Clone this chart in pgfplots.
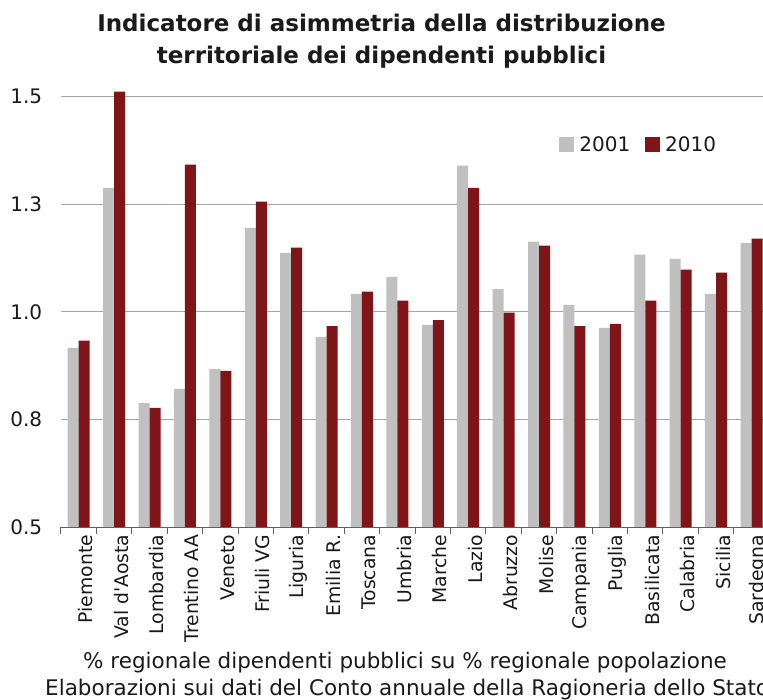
\documentclass[border=0pt]{standalone}
\usepackage{pgfplots}
\pgfplotsset{compat=1.18}
\usepackage{fontspec}
\setmainfont{DejaVu Sans}[Ligatures=TeXOff]
\definecolor{bargray}{HTML}{C0C0C0}
\definecolor{barred}{HTML}{7F1519}
\definecolor{gridc}{HTML}{A6A6A6}
\definecolor{axisc}{HTML}{606060}
\definecolor{txt}{HTML}{1A1A1A}
\begin{document}
\begin{tikzpicture}[x=1pt,y=1pt]
\clip (0,0) rectangle (763,699);
\fill[white] (0,0) rectangle (763,699);
\begin{axis}[
  at={(61pt,172pt)}, anchor=south west,
  scale only axis, width=702.2pt, height=438.9pt,
  xmin=-0.5, xmax=19.33, ymin=0.5, ymax=1.52,
  ybar, bar width=11pt,
  axis line style={draw=none},
  xtick={0,...,19},
  xticklabels={Piemonte,Val d'Aosta,Lombardia,Trentino AA,Veneto,Friuli VG,Liguria,Emilia R.,Toscana,Umbria,Marche,Lazio,Abruzzo,Molise,Campania,Puglia,Basilicata,Calabria,Sicilia,Sardegna},
  major x tick style={draw=none},
  minor xtick={-0.5,0.5,...,19.5},
  minor x tick style={axisc, line width=1pt},
  minor tick length=7pt,
  tick align=outside, xtick pos=bottom,
  ytick={0.5,0.75,1,1.25,1.5},
  yticklabels={0.5,0.8,1.0,1.3,1.5},
  ytick style={draw=none},
  ymajorgrids, grid style={gridc, line width=1pt},
  /pgf/number format/assume math mode=true,
  yticklabel style={font=\fontsize{20}{24}\selectfont, text=txt, xshift=-11pt},
  xticklabel style={font=\fontsize{18.8}{22}\selectfont, text=txt, rotate=90, anchor=east, yshift=-7pt},
  legend columns=2,
  legend style={at={(0.7094,0.8715)}, anchor=west, draw=none, fill=none, inner sep=0pt,
    font=\fontsize{20}{24}\selectfont, text=txt, nodes={inner sep=0pt},
    /tikz/every odd column/.append style={column sep=5pt},
    /tikz/every even column/.append style={column sep=15pt}},
  after end axis/.code={\draw[axisc, line width=1pt] (rel axis cs:0,0) -- (rel axis cs:1,0);},
]
\addplot[fill=bargray, draw=none, bar shift=-5.5pt,
  legend image code/.code={\fill[bargray] (0pt,-7.5pt) rectangle (15pt,7.5pt);}]
  coordinates {(0,0.916) (1,1.288) (2,0.788) (3,0.821) (4,0.867) (5,1.195) (6,1.137) (7,0.942) (8,1.042) (9,1.081) (10,0.970) (11,1.340) (12,1.053) (13,1.163) (14,1.016) (15,0.963) (16,1.133) (17,1.123) (18,1.042) (19,1.160)};
\addplot[fill=barred, draw=none, bar shift=5.5pt,
  legend image code/.code={\fill[barred] (0pt,-7.5pt) rectangle (15pt,7.5pt);}]
  coordinates {(0,0.933) (1,1.512) (2,0.777) (3,1.342) (4,0.863) (5,1.256) (6,1.149) (7,0.967) (8,1.047) (9,1.026) (10,0.981) (11,1.288) (12,0.998) (13,1.154) (14,0.967) (15,0.972) (16,1.026) (17,1.098) (18,1.091) (19,1.170)};
\legend{2001,2010}
\end{axis}
\node[anchor=base, font=\fontsize{23}{27}\selectfont\bfseries, text=txt] at (381.5,667.3) {Indicatore di asimmetria della distribuzione};
\node[anchor=base, font=\fontsize{23}{27}\selectfont\bfseries, text=txt] at (381.5,635) {territoriale dei dipendenti pubblici};
\node[anchor=base west, inner sep=0pt, font=\fontsize{21.5}{25}\selectfont, text=txt] at (83,30.7) {\% regionale dipendenti pubblici su \% regionale popolazione};
\node[anchor=base west, inner sep=0pt, font=\fontsize{21.5}{25}\selectfont, text=txt] at (45,4) {Elaborazioni sui dati del Conto annuale della Ragioneria dello Stato};
\end{tikzpicture}
\end{document}
